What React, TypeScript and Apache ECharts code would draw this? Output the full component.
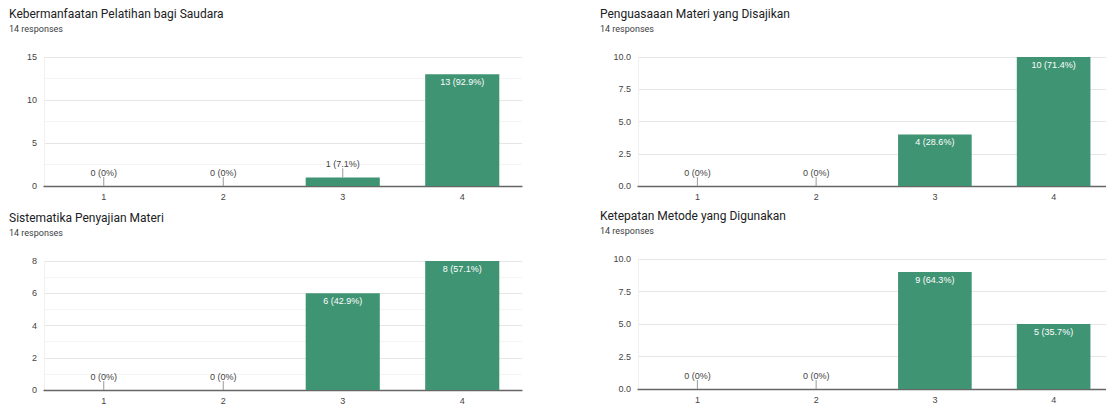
import React, { useEffect, useRef } from "react";
import * as echarts from "echarts";

const categories = ["1", "2", "3", "4"];
const titles = [
  "Kebermanfaatan Pelatihan bagi Saudara",
  "Penguasaaan Materi yang Disajikan",
  "Sistematika Penyajian Materi",
  "Ketepatan Metode yang Digunakan",
];
const responses = 14;
const valuesA = [0, 0, 1, 13];
const valuesB = [0, 0, 4, 10];
const valuesC = [0, 0, 6, 8];
const valuesD = [0, 0, 9, 5];
const allValues = [valuesA, valuesB, valuesC, valuesD];
const yMax = [15, 10, 8, 10];
const yInterval = [5, 2.5, 2, 2.5];
const yDecimals = [0, 1, 0, 1];
const hasMinor = [true, false, true, false];

const layouts = [
  { left: 44, top: 57, width: 478, height: 129, tx: 9, ty: 7 },
  { left: 638, top: 57, width: 475, height: 129, tx: 600, ty: 7 },
  { left: 44, top: 261, width: 478, height: 129, tx: 9, ty: 211 },
  { left: 638, top: 259, width: 475, height: 130, tx: 600, ty: 209 },
];

const GREEN = "#3e9473";
const FONT = "Liberation Sans, Arial, sans-serif";

function pct(v: number) {
  return String(Math.round((v / responses) * 1000) / 10) + "%";
}

export default function App() {
  const ref = useRef<HTMLDivElement>(null);
  useEffect(() => {
    if (!ref.current) return;
    const chart = echarts.init(ref.current, undefined, { renderer: "svg" });
    const title: any[] = [];
    const grid: any[] = [];
    const xAxis: any[] = [];
    const yAxis: any[] = [];
    const series: any[] = [];
    allValues.forEach((vals, i) => {
      const L = layouts[i];
      title.push({
        text: titles[i],
        subtext: responses + " responses",
        left: L.tx,
        top: L.ty,
        padding: 0,
        itemGap: 2.5,
        textStyle: { fontFamily: "Roboto, sans-serif", fontSize: 12, fontWeight: "normal", color: "#202124", lineHeight: 14 },
        subtextStyle: { fontFamily: "Roboto, sans-serif", fontSize: 9, color: "#3c4043", lineHeight: 11 },
      });
      grid.push({ left: L.left, top: L.top, width: L.width, height: L.height, containLabel: false });
      xAxis.push({
        type: "category",
        gridIndex: i,
        data: categories,
        axisTick: { show: false },
        axisLine: { lineStyle: { color: "#666", width: 1.3 } },
        axisLabel: { color: "#444", fontSize: 9, fontFamily: FONT, margin: 6 },
      });
      yAxis.push({
        type: "value",
        gridIndex: i,
        min: 0,
        max: yMax[i],
        interval: yInterval[i],
        axisLine: { show: true, lineStyle: { color: "#f0f0f0" } },
        axisTick: { show: false },
        axisLabel: {
          color: "#444",
          fontSize: 9,
          fontFamily: FONT,
          margin: 7,
          formatter: (v: number) => v.toFixed(yDecimals[i]),
        },
        splitLine: { lineStyle: { color: "#e6e6e6" } },
        minorTick: { show: false, splitNumber: 2 },
        minorSplitLine: { show: hasMinor[i], lineStyle: { color: "#f4f4f4" } },
      });
      series.push({
        type: "bar",
        xAxisIndex: i,
        yAxisIndex: i,
        barWidth: "62%",
        itemStyle: { color: GREEN },
        data: vals.map((v) => {
          const inside = v / yMax[i] >= 0.2;
          return {
            value: v,
            label: {
              show: true,
              position: inside ? "insideTop" : "top",
              distance: inside ? 3 : 9,
              color: inside ? "#ffffff" : "#444",
              fontSize: 9,
              fontWeight: "normal",
              textBorderWidth: 0,
              textBorderColor: "transparent",
              fontFamily: FONT,
              formatter: () => v + " (" + pct(v) + ")",
            },
          };
        }),
      });
      series.push({
        type: "custom",
        xAxisIndex: i,
        yAxisIndex: i,
        silent: true,
        z: 5,
        data: vals.map((v, k) => [k, v]),
        encode: { x: 0, y: 1 },
        renderItem: (params: any, api: any) => {
          const v = api.value(1);
          if (v / yMax[i] >= 0.2) return null;
          const p = api.coord([api.value(0), v]);
          return {
            type: "line",
            shape: { x1: p[0], y1: p[1], x2: p[0], y2: p[1] - 9 },
            style: { stroke: "#999", lineWidth: 1 },
          };
        },
      });
    });
    chart.setOption({
      animation: false,
      backgroundColor: "#ffffff",
      title,
      grid,
      xAxis,
      yAxis,
      series,
    });
    return () => chart.dispose();
  }, []);
  return (
    <div
      style={{ position: "absolute", left: 0, top: 0, width: 1106, height: 405, overflow: "hidden" }}
    >
      <div ref={ref} style={{ width: 1120, height: 405 }} />
    </div>
  );
}
